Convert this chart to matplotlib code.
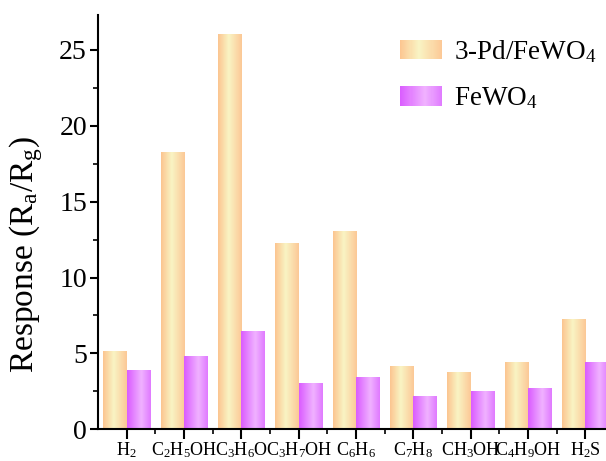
import numpy as np
import matplotlib
matplotlib.use("Agg")
import matplotlib.pyplot as plt
from matplotlib.colors import LinearSegmentedColormap
from matplotlib.legend_handler import HandlerBase
from matplotlib.patches import Rectangle

gases = [r"H$_2$", r"C$_2$H$_5$OH", r"C$_3$H$_6$O", r"C$_3$H$_7$OH", r"C$_6$H$_6$",
         r"C$_7$H$_8$", r"CH$_3$OH", r"C$_4$H$_9$OH", r"H$_2$S"]
pd_fewo4 = [5.1, 18.25, 26.0, 12.2, 13.0, 4.1, 3.7, 4.4, 7.2]
fewo4 = [3.85, 4.8, 6.45, 3.0, 3.4, 2.15, 2.5, 2.7, 4.35]
series_labels = [r"3-Pd/FeWO$_4$", r"FeWO$_4$"]

plt.rcParams["font.family"] = ["Liberation Serif", "DejaVu Serif"]
plt.rcParams["mathtext.fontset"] = "custom"
plt.rcParams["mathtext.rm"] = "Liberation Serif"
plt.rcParams["mathtext.it"] = "Liberation Serif:italic"

# cylinder-like shading: edge -> light middle -> edge
cmap_pd = LinearSegmentedColormap.from_list(
    "pd", [(0, "#FCC590"), (0.45, "#F9F4C4"), (1, "#FCC896")])
cmap_fe = LinearSegmentedColormap.from_list(
    "fe", [(0, "#DA5CFF"), (0.6, "#F0B2FF"), (1, "#E07AFF")])


class GradientHandler(HandlerBase):
    def __init__(self, cmap):
        super().__init__()
        self.cmap = cmap

    def create_artists(self, legend, orig_handle, xdescent, ydescent,
                       width, height, fontsize, trans):
        n = 40
        arts = []
        for i in range(n):
            arts.append(Rectangle((-xdescent + width * i / n, -ydescent),
                                  width / n * 1.05, height,
                                  facecolor=self.cmap((i + 0.5) / n),
                                  edgecolor="none", transform=trans))
        return arts


fig = plt.figure(figsize=(6.06, 4.61), dpi=100)
ax = fig.add_axes([98 / 606, 31.7 / 461, 0.861, 414.3 / 461])

x = np.arange(len(gases))
w = 0.41
grad = np.linspace(0, 1, 64).reshape(1, -1)
for vals, offset, cmap in [(pd_fewo4, -w / 2, cmap_pd), (fewo4, w / 2, cmap_fe)]:
    bars = ax.bar(x + offset, vals, width=w, color=cmap(0.5), edgecolor="none", zorder=1)
    for p in bars:
        x0, y0 = p.get_xy()
        ax.imshow(grad, extent=[x0, x0 + p.get_width(), y0, y0 + p.get_height()],
                  cmap=cmap, aspect="auto", interpolation="bilinear", zorder=2)

ax.set_xlim(-0.503, 8.6)
ax.set_ylim(0, 27.3)
ax.set_xticks(x)
ax.set_xticklabels(gases, fontsize=13)
ax.set_xticks(x[:-1] + 0.5, minor=True)
ax.set_yticks(np.arange(0, 26, 5))
ax.set_yticks(np.arange(2.5, 27, 5), minor=True)
ax.tick_params(axis="y", which="major", labelsize=20, length=6, width=1.5, direction="out", pad=2)
ax.tick_params(axis="y", which="minor", length=3.5, width=1.2, direction="out")
ax.tick_params(axis="x", which="major", length=7, width=1.5, direction="out", pad=1)
ax.tick_params(axis="x", which="minor", length=3.5, width=1.2, direction="out")
for s in ["top", "right"]:
    ax.spines[s].set_visible(False)
for s in ["left", "bottom"]:
    ax.spines[s].set_linewidth(1.5)

ax.set_ylabel(r"Response (R$_\mathrm{a}$/R$_\mathrm{g}$)", fontsize=24)
ax.yaxis.set_label_coords(-0.102, 0.423)

proxies = [Rectangle((0, 0), 1, 1), Rectangle((0, 0), 1, 1)]
ax.legend(proxies, series_labels, fontsize=19.5, frameon=False,
          handler_map={proxies[0]: GradientHandler(cmap_pd), proxies[1]: GradientHandler(cmap_fe)},
          handlelength=1.55, handleheight=0.75, handletextpad=0.45, labelspacing=0.75,
          borderpad=0, borderaxespad=0, loc="upper left",
          bbox_to_anchor=(400 / 606, 1 - 38 / 461), bbox_transform=fig.transFigure)

fig.savefig("out.png", dpi=100)
